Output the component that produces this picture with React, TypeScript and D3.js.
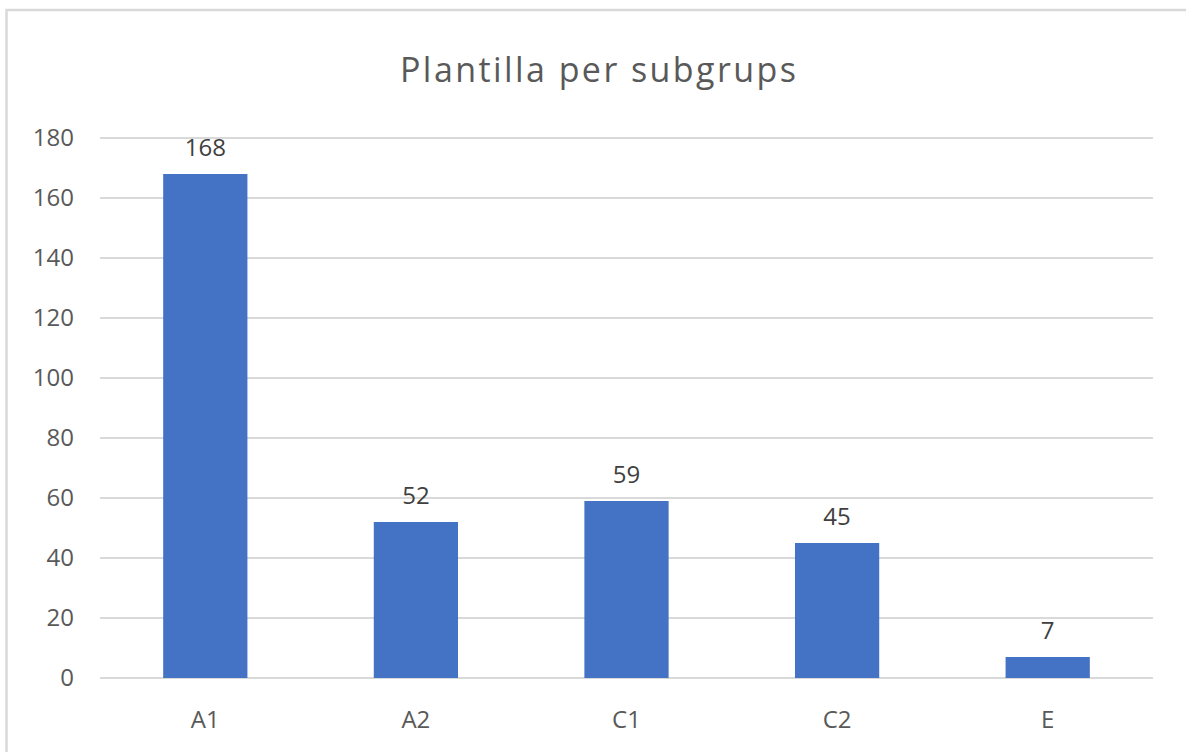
import React, { useEffect, useRef } from 'react';
import * as d3 from 'd3';

const categories = ['A1', 'A2', 'C1', 'C2', 'E'];
const values = [168, 52, 59, 45, 7];
const yTicks = [0, 20, 40, 60, 80, 100, 120, 140, 160, 180];
const title = 'Plantilla per subgrups';

const WIDTH = 1186;
const HEIGHT = 752;
const PLOT = { left: 100, right: 1153, top: 138, bottom: 678 };
const FONT = '"Open Sans", sans-serif';
const TEXT_COLOR = '#595959';

const App: React.FC = () => {
  const svgRef = useRef<SVGSVGElement>(null);

  useEffect(() => {
    const svg = d3.select(svgRef.current);
    svg.selectAll('*').remove();

    // chart frame
    svg.append('rect')
      .attr('x', 6.5)
      .attr('y', 10)
      .attr('width', 1200)
      .attr('height', 780)
      .attr('fill', '#fff')
      .attr('stroke', '#d9d9d9')
      .attr('stroke-width', 2.5);

    const x = d3.scaleBand<string>()
      .domain(categories)
      .range([PLOT.left, PLOT.right])
      .paddingInner(0.6)
      .paddingOuter(0.3);

    const y = d3.scaleLinear()
      .domain([0, 180])
      .range([PLOT.bottom, PLOT.top]);

    // gridlines
    svg.append('g')
      .selectAll('line')
      .data(yTicks)
      .enter().append('line')
      .attr('x1', PLOT.left)
      .attr('x2', PLOT.right)
      .attr('y1', d => y(d))
      .attr('y2', d => y(d))
      .attr('stroke', '#d9d9d9')
      .attr('stroke-width', 2);

    // y tick labels
    svg.append('g')
      .selectAll('text')
      .data(yTicks)
      .enter().append('text')
      .attr('x', 74)
      .attr('y', d => y(d))
      .attr('dy', '0.35em')
      .attr('text-anchor', 'end')
      .style('font-family', FONT)
      .style('font-size', '24px')
      .style('fill', TEXT_COLOR)
      .text(d => d);

    // bars
    svg.append('g')
      .selectAll('rect')
      .data(values)
      .enter().append('rect')
      .attr('x', (d, i) => x(categories[i])!)
      .attr('y', d => y(d))
      .attr('width', x.bandwidth())
      .attr('height', d => y(0) - y(d))
      .attr('fill', '#4472c4');

    // value labels
    svg.append('g')
      .selectAll('text')
      .data(values)
      .enter().append('text')
      .attr('x', (d, i) => x(categories[i])! + x.bandwidth() / 2)
      .attr('y', d => y(d) - 18)
      .attr('text-anchor', 'middle')
      .style('font-family', FONT)
      .style('font-size', '24px')
      .style('fill', '#404040')
      .text(d => d);

    // x labels
    svg.append('g')
      .selectAll('text')
      .data(categories)
      .enter().append('text')
      .attr('x', d => x(d)! + x.bandwidth() / 2)
      .attr('y', 728)
      .attr('text-anchor', 'middle')
      .style('font-family', FONT)
      .style('font-size', '24px')
      .style('fill', TEXT_COLOR)
      .text(d => d);

    // title
    svg.append('text')
      .attr('x', 598)
      .attr('y', 82)
      .attr('text-anchor', 'middle')
      .attr('textLength', 396)
      .attr('lengthAdjust', 'spacing')
      .style('font-family', FONT)
      .style('font-size', '34px')
      .style('fill', TEXT_COLOR)
      .text(title);
  }, []);

  return (
    <div style={{ position: 'absolute', left: 0, top: 0 }}>
      <svg ref={svgRef} width={WIDTH} height={HEIGHT} style={{ display: 'block' }}></svg>
    </div>
  );
};

export default App;
